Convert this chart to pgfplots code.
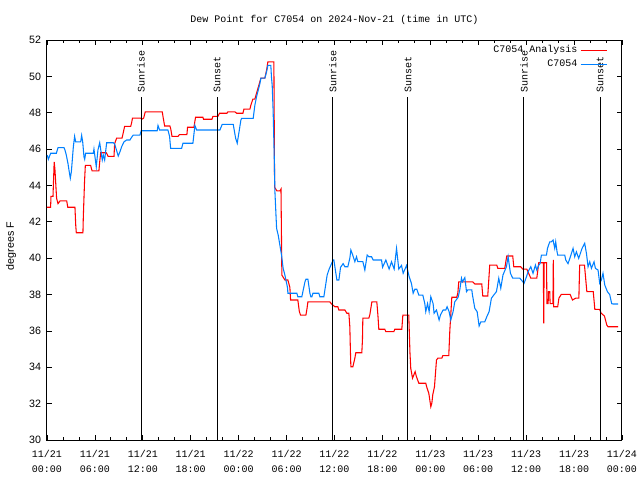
\documentclass[border=0pt]{standalone}
\usepackage{pgfplots}
\pgfplotsset{compat=1.18}
\usepackage{fontspec}
\setmainfont{Liberation Sans}
\newfontfamily\monof{Liberation Mono}
\definecolor{anred}{RGB}{255,0,0}
\definecolor{obsblue}{RGB}{0,128,255}
\newcommand{\mfont}{\monof\fontsize{7.5}{10.5}\selectfont}
\begin{document}
\begin{tikzpicture}
\useasboundingbox (-35.25pt,-30pt) rectangle (444.75pt,330pt);
\begin{axis}[
  at={(0,0)}, anchor=south west,
  scale only axis, width=431.25pt, height=300pt,
  xmin=0, xmax=72, ymin=30, ymax=52,
  xtick={0,6,...,72},
  xticklabels={{11/21\\00:00},{11/21\\06:00},{11/21\\12:00},{11/21\\18:00},{11/22\\00:00},{11/22\\06:00},{11/22\\12:00},{11/22\\18:00},{11/23\\00:00},{11/23\\06:00},{11/23\\12:00},{11/23\\18:00},{11/24\\00:00}},
  minor x tick num=2,
  ytick={30,32,...,52},
  tick align=inside,
  major tick length=3.8pt, minor tick length=2.4pt,
  tick style={black, line width=0.6pt},
  axis line style={black, line width=0.75pt},
  xticklabel style={font=\monof\fontsize{7.5}{11}\selectfont, align=center, yshift=-4.5pt},
  yticklabel style={font=\fontsize{8}{9}\selectfont, xshift=-1pt},
  /pgf/number format/assume math mode=true,
  ylabel={degrees F},
  ylabel style={font=\fontsize{8}{9}\selectfont, at={(axis description cs:-0.0626,0.485)}, anchor=center},
  title={Dew Point for C7054 on 2024-Nov-21 (time in UTC)},
  title style={font=\mfont, at={(axis description cs:0.5,1)}, anchor=base, yshift=7pt},
  legend plot pos=right,
  legend cell align=right,
  legend style={at={(axis description cs:1,1)}, anchor=north east, draw=none, fill=none,
    font=\monof\fontsize{7.5}{9}\selectfont, xshift=-7.5pt},
  legend image code/.code={\draw[#1] (0pt,0pt) -- (20pt,0pt);},
]
\addplot[anred, line width=0.8pt] coordinates {
(0,42.8) (0.45,42.8) (0.5,43.4) (0.75,43.4) (0.9,45.3) (1.0,44.85) (1.2,43.3) (1.38,43.0) (1.63,43.15) (2.47,43.15) (2.6,42.8) (3.5,42.8) (3.6,41.8) (3.67,41.4) (4.5,41.4) (4.55,42.3) (4.7,44.2) (4.8,45.1) (5.47,45.1) (5.55,44.95) (5.65,44.8) (6.5,44.8) (6.6,45.3) (6.72,45.8) (7.42,45.8) (7.55,45.7) (7.65,45.6) (8.39,45.6) (8.47,46.3) (8.72,46.6) (9.39,46.6) (9.5,46.8) (9.72,47.25) (10.48,47.25) (10.6,47.45) (10.7,47.7) (11.73,47.7) (11.9,47.65) (12.1,47.7) (12.3,48.05) (14.43,48.05) (14.56,47.7) (14.73,47.27) (15.39,47.27) (15.5,47.1) (15.65,46.7) (16.4,46.7) (16.6,46.8) (17.52,46.8) (17.6,47.2) (18.4,47.2) (18.6,47.75) (19.52,47.75) (19.6,47.64) (20.65,47.64) (20.78,47.8) (21.4,47.8) (21.6,47.97) (22.53,47.97) (22.65,48.05) (23.53,48.05) (23.75,47.97) (24.53,47.97) (24.66,48.2) (25.41,48.2) (25.53,48.42) (25.78,48.75) (26.03,48.75) (26.78,49.9) (27.28,49.9) (27.5,50.35) (27.66,50.8) (28.41,50.8) (28.5,43.9) (28.79,43.7) (29.16,43.7) (29.3,43.8) (29.41,39.07) (29.79,38.8) (30.16,38.8) (30.41,38.4) (30.5,37.7) (31.41,37.7) (31.6,37.06) (31.75,36.87) (32.42,36.87) (32.55,37.2) (32.67,37.6) (35.42,37.6) (35.63,37.48) (36.05,37.33) (36.42,37.33) (36.55,37.15) (37.3,37.15) (37.55,36.97) (37.8,36.97) (37.92,36.23) (38.0,34.77) (38.05,34.03) (38.3,34.03) (38.55,34.5) (38.67,34.8) (39.42,34.8) (39.5,35.5) (39.55,36.7) (40.3,36.7) (40.43,36.9) (40.68,37.6) (41.3,37.6) (41.43,36.9) (41.55,36.09) (42.3,36.09) (42.43,35.96) (43.43,35.96) (43.55,36.09) (44.43,36.09) (44.56,36.87) (45.3,36.87) (45.45,34.8) (45.55,33.94) (45.77,33.4) (46.1,33.76) (46.25,33.5) (46.56,33.12) (47.43,33.12) (47.56,32.9) (47.81,32.57) (48.06,31.83) (48.19,32.03) (48.31,32.5) (48.52,32.93) (48.77,34.4) (48.94,34.5) (49.44,34.5) (49.56,34.64) (50.31,34.64) (50.44,36.0) (50.69,37.85) (51.31,37.85) (51.45,38.1) (51.56,38.7) (53.32,38.7) (53.57,38.58) (54.44,38.58) (54.57,37.92) (55.19,37.92) (55.44,39.62) (56.32,39.62) (56.45,39.44) (57.32,39.44) (57.57,40.12) (58.32,40.12) (58.45,39.53) (59.32,39.53) (59.57,39.4) (60.08,39.4) (60.58,38.9) (61.33,38.9) (61.45,39.3) (61.58,39.75) (62.15,39.75) (62.2,36.42) (62.25,39.75) (62.55,39.75) (62.6,37.5) (62.75,37.5) (62.8,38.16) (62.95,38.16) (63.0,37.5) (63.35,37.5) (63.4,39.9) (63.45,37.33) (63.95,37.33) (64.1,37.8) (64.4,38.01) (65.5,38.01) (65.8,37.7) (66.2,37.8) (66.6,37.8) (66.7,39.62) (67.3,39.62) (67.6,38.16) (68.4,38.16) (68.6,37.18) (69.2,37.18) (69.4,36.97) (69.8,36.82) (70.1,36.32) (70.25,36.23) (71.5,36.23)
};
\addlegendentry{C7054 Analysis\hspace{3pt}}
\addplot[obsblue, line width=0.8pt] coordinates {
(0.04,45.67) (0.17,45.44) (0.46,45.77) (1.17,45.77) (1.38,46.08) (2.13,46.08) (2.25,45.95) (2.42,45.67) (2.63,45.2) (2.75,44.85) (2.92,44.4) (3.05,44.75) (3.3,46.13) (3.46,46.7) (3.59,46.4) (4.22,46.4) (4.34,46.75) (4.47,46.4) (4.63,45.58) (4.72,45.44) (4.84,45.77) (5.8,45.77) (5.88,46.0) (6.09,45.3) (6.17,45.03) (6.38,45.95) (6.6,46.35) (6.92,45.4) (7.05,45.67) (7.22,45.4) (7.47,46.35) (8.3,46.35) (8.47,46.28) (8.92,45.62) (9.14,45.86) (9.35,46.13) (9.64,46.4) (9.97,46.5) (10.39,46.5) (10.55,46.62) (10.8,46.77) (11.64,46.77) (11.8,47.01) (13.8,47.01) (13.9,47.3) (14.1,47.05) (15.14,47.05) (15.35,46.7) (15.48,46.04) (16.86,46.04) (17.02,46.32) (18.27,46.32) (18.52,47.3) (18.74,47.05) (21.65,47.05) (21.94,47.36) (23.32,47.36) (23.62,46.6) (23.82,46.32) (24.03,46.9) (24.28,47.6) (24.37,47.69) (25.82,47.69) (26.03,48.42) (26.25,48.9) (26.66,49.6) (26.78,49.9) (27.28,49.9) (27.5,50.26) (27.66,50.6) (28.03,50.6) (28.1,50.0) (28.2,49.5) (28.32,48.05) (28.45,45.67) (28.54,43.66) (28.75,41.64) (28.95,41.27) (29.37,40.17) (29.57,39.44) (29.79,39.07) (30.13,38.35) (30.16,38.07) (31.29,38.07) (31.41,37.88) (31.91,37.88) (32.3,38.7) (32.42,38.84) (32.67,38.84) (32.92,38.07) (33.04,37.88) (33.17,37.88) (33.3,38.07) (34.04,38.07) (34.17,37.88) (34.67,37.88) (34.83,38.35) (35.08,39.07) (35.33,39.4) (35.63,39.7) (35.83,39.9) (35.92,39.9) (36.17,39.17) (36.3,38.8) (36.55,38.8) (36.76,39.5) (37.08,39.7) (37.3,39.53) (37.67,39.53) (37.92,40.0) (38.05,40.45) (38.26,40.2) (38.55,39.81) (38.76,40.08) (38.92,39.81) (39.55,39.81) (39.8,39.35) (40.09,40.17) (40.3,40.08) (40.64,40.08) (40.84,39.9) (41.89,39.9) (42.02,39.5) (42.43,39.9) (42.84,39.4) (43.14,39.8) (43.47,39.4) (43.77,40.54) (44.05,39.4) (44.39,39.6) (44.6,39.17) (45.02,39.6) (45.34,39.0) (45.64,38.6) (45.85,38.07) (46.06,38.29) (46.31,38.29) (46.56,37.97) (47.06,37.97) (47.31,37.5) (47.43,37.06) (47.65,37.5) (47.85,37.06) (48.06,37.88) (48.35,37.5) (48.47,36.97) (48.77,37.15) (49.1,36.6) (49.27,36.88) (49.6,37.15) (49.94,37.15) (50.1,37.33) (50.35,37.06) (50.56,36.6) (50.85,37.06) (51.06,37.6) (51.48,37.85) (51.69,38.26) (51.9,38.9) (52.02,38.7) (52.32,38.93) (52.53,38.16) (52.69,38.26) (53.19,38.26) (53.28,37.97) (53.57,37.24) (53.86,37.06) (54.11,36.27) (54.32,36.5) (54.82,36.5) (55.07,36.78) (55.36,37.06) (55.65,37.8) (55.94,37.97) (56.28,38.16) (56.57,38.9) (56.82,38.35) (57.1,39.08) (57.53,39.53) (57.74,40.08) (58.03,39.17) (58.32,38.9) (59.2,38.9) (59.4,38.8) (59.74,38.62) (60.04,38.98) (60.24,39.26) (60.58,39.53) (60.86,39.17) (61.16,39.62) (61.33,39.35) (61.58,39.62) (61.74,39.7) (61.91,40.17) (62.54,40.17) (62.67,40.54) (62.95,40.9) (63.16,40.9) (63.37,41.0) (63.58,40.54) (63.7,40.9) (63.87,40.35) (63.95,40.17) (64.83,40.17) (64.96,39.9) (65.24,39.7) (65.54,40.08) (65.87,40.54) (66.08,40.08) (66.29,40.35) (66.58,39.99) (67.0,40.54) (67.33,40.82) (67.55,40.26) (67.75,39.53) (67.96,39.8) (68.17,39.44) (68.5,39.8) (68.67,39.44) (69.0,39.35) (69.21,38.62) (69.42,38.8) (69.62,39.17) (69.84,38.53) (70.17,38.16) (70.46,38.0) (70.71,37.5) (70.9,37.48) (71.5,37.48)
};
\addlegendentry{C7054\hspace{3pt}}
\addplot[black, line width=0.75pt, forget plot] coordinates {(11.78,30) (11.78,48.85)};
\addplot[black, line width=0.75pt, forget plot] coordinates {(21.3,30) (21.3,48.85)};
\addplot[black, line width=0.75pt, forget plot] coordinates {(35.78,30) (35.78,48.85)};
\addplot[black, line width=0.75pt, forget plot] coordinates {(45.2,30) (45.2,48.85)};
\addplot[black, line width=0.75pt, forget plot] coordinates {(59.72,30) (59.72,48.85)};
\addplot[black, line width=0.75pt, forget plot] coordinates {(69.25,30) (69.25,48.85)};
\node[rotate=90, anchor=west, font=\mfont, inner sep=0pt] at (axis cs:11.78,49.1) {Sunrise};
\node[rotate=90, anchor=west, font=\mfont, inner sep=0pt] at (axis cs:21.3,49.1) {Sunset};
\node[rotate=90, anchor=west, font=\mfont, inner sep=0pt] at (axis cs:35.78,49.1) {Sunrise};
\node[rotate=90, anchor=west, font=\mfont, inner sep=0pt] at (axis cs:45.2,49.1) {Sunset};
\node[rotate=90, anchor=west, font=\mfont, inner sep=0pt] at (axis cs:59.72,49.1) {Sunrise};
\node[rotate=90, anchor=west, font=\mfont, inner sep=0pt] at (axis cs:69.25,49.1) {Sunset};
\end{axis}
\end{tikzpicture}
\end{document}
